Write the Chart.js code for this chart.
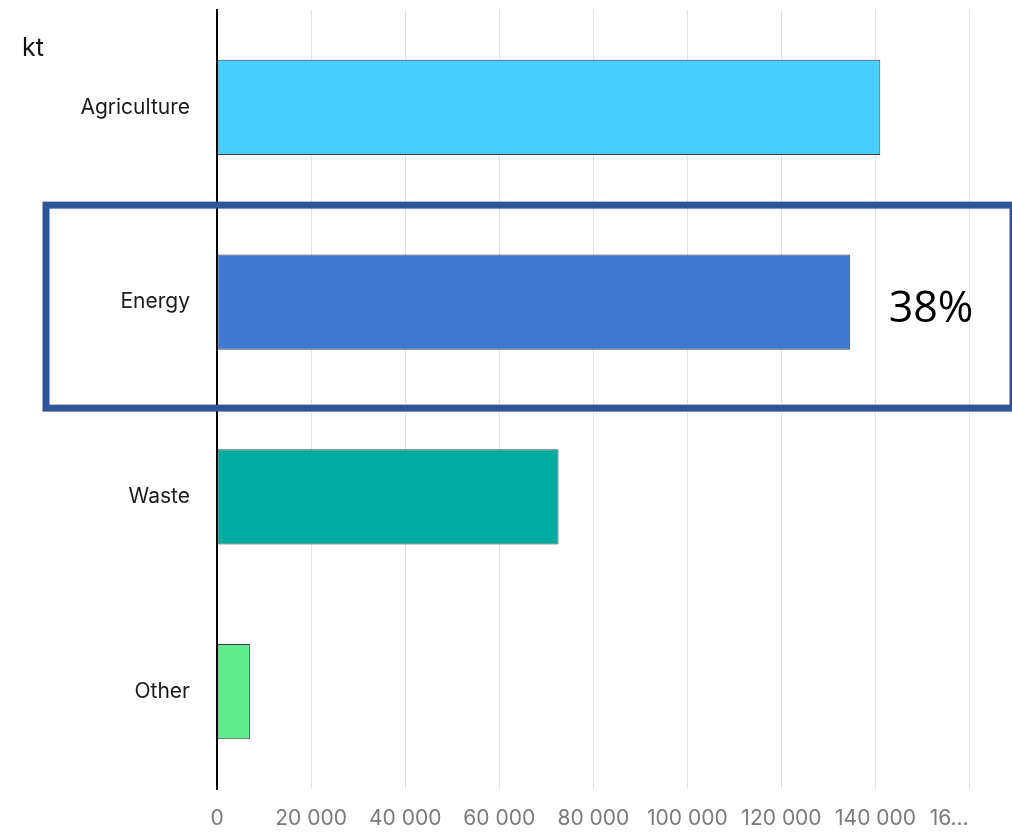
<!DOCTYPE html>
<html>
<head>
<meta charset="utf-8">
<script src="https://cdn.jsdelivr.net/npm/chart.js@4/dist/chart.umd.min.js"></script>
<style>
  html, body { margin: 0; padding: 0; background: #fff; overflow: hidden; }
  #wrap { width: 1012px; height: 836px; position: relative; }
</style>
</head>
<body>
<div id="wrap"><canvas id="mycanvas"></canvas></div>
<script>
// data (kt)
var sectors = ['Agriculture', 'Energy', 'Waste', 'Other'];
var emissions = [141000, 134600, 72600, 7000];
var barColors = ['#47CFFF', '#3F78D1', '#00AB9F', '#63EB90'];
var tickValues = [0, 20000, 40000, 60000, 80000, 100000, 120000, 140000, 160000];
var unitLabel = 'kt';
var highlighted = 'Energy';

function fmt(v) {
	return String(v).replace(/\B(?=(\d{3})+(?!\d))/g, ' ');
}

var total = emissions.reduce(function(a, b){ return a + b; }, 0);

var overlay = {
	id: 'overlay',
	afterDraw: function(chart) {
		var ctx = chart.ctx;
		var y = chart.scales.y;
		var i = sectors.indexOf(highlighted);
		var cy = y.getPixelForValue(i);
		ctx.save();
		// unit label
		ctx.fillStyle = '#111';
		ctx.font = '25px Inter, Lato, sans-serif';
		ctx.textAlign = 'left';
		ctx.textBaseline = 'middle';
		ctx.fillText(unitLabel, 22, 48);
		// highlight frame
		ctx.strokeStyle = '#2F5597';
		ctx.lineWidth = 7;
		ctx.strokeRect(46, cy - 97, 967, 203);
		// share of total
		var pct = Math.round(emissions[i] / total * 100) + '%';
		ctx.fillStyle = '#000';
		ctx.font = '43px "Open Sans", sans-serif';
		ctx.textAlign = 'center';
		ctx.fillText(pct, 931, cy + 8);
		ctx.restore();
	}
};

var chartdata = {
	labels: sectors,
	datasets: [
		{
			label: unitLabel,
			backgroundColor: barColors,
			borderColor: '#444',
			borderWidth: 1,
			borderSkipped: false,
			categoryPercentage: 1,
			barPercentage: 0.49,
			data: emissions
		}
	]
};

var ctx = document.getElementById('mycanvas');
var barGraph = new Chart(ctx, {
	type: 'bar',
	data: chartdata,
	plugins: [overlay],
	options: {
		indexAxis: 'y',
		responsive: true,
		maintainAspectRatio: false,
		animation: false,
		layout: { padding: { top: 10, left: 0, right: 0, bottom: 0 } },
		plugins: {
			legend: { display: false },
			tooltip: { enabled: false }
		},
		scales: {
			x: {
				min: 0,
				max: 169000,
				grid: { color: '#e2e2e2', drawTicks: false },
				border: { display: false },
				afterBuildTicks: function(scale) {
					scale.ticks = tickValues.map(function(v){ return { value: v }; });
				},
				ticks: {
					autoSkip: false,
					maxRotation: 0,
					padding: 17,
					color: '#7a7a7a',
					font: { family: 'Inter, Lato, sans-serif', size: 21 },
					callback: function(v, idx, ticks) {
						var s = fmt(v);
						// last label is cut off at the right edge
						if (idx === ticks.length - 1) s = s.slice(0, 2) + '…\u2007\u2007\u2007';
						return s;
					}
				},
				afterFit: function(scale) {
					scale.height = 47;
					scale.paddingLeft = 0;
					scale.paddingRight = 0;
				}
			},
			y: {
				grid: { display: false, drawTicks: false },
				border: { color: '#000', width: 2 },
				ticks: {
					padding: 27,
					color: '#1a1a1a',
					font: { family: 'Inter, Lato, sans-serif', size: 21 }
				},
				afterFit: function(scale) {
					scale.width = 217;
					scale.paddingTop = 0;
					scale.paddingBottom = 0;
				}
			}
		}
	}
});
</script>
</body>
</html>
